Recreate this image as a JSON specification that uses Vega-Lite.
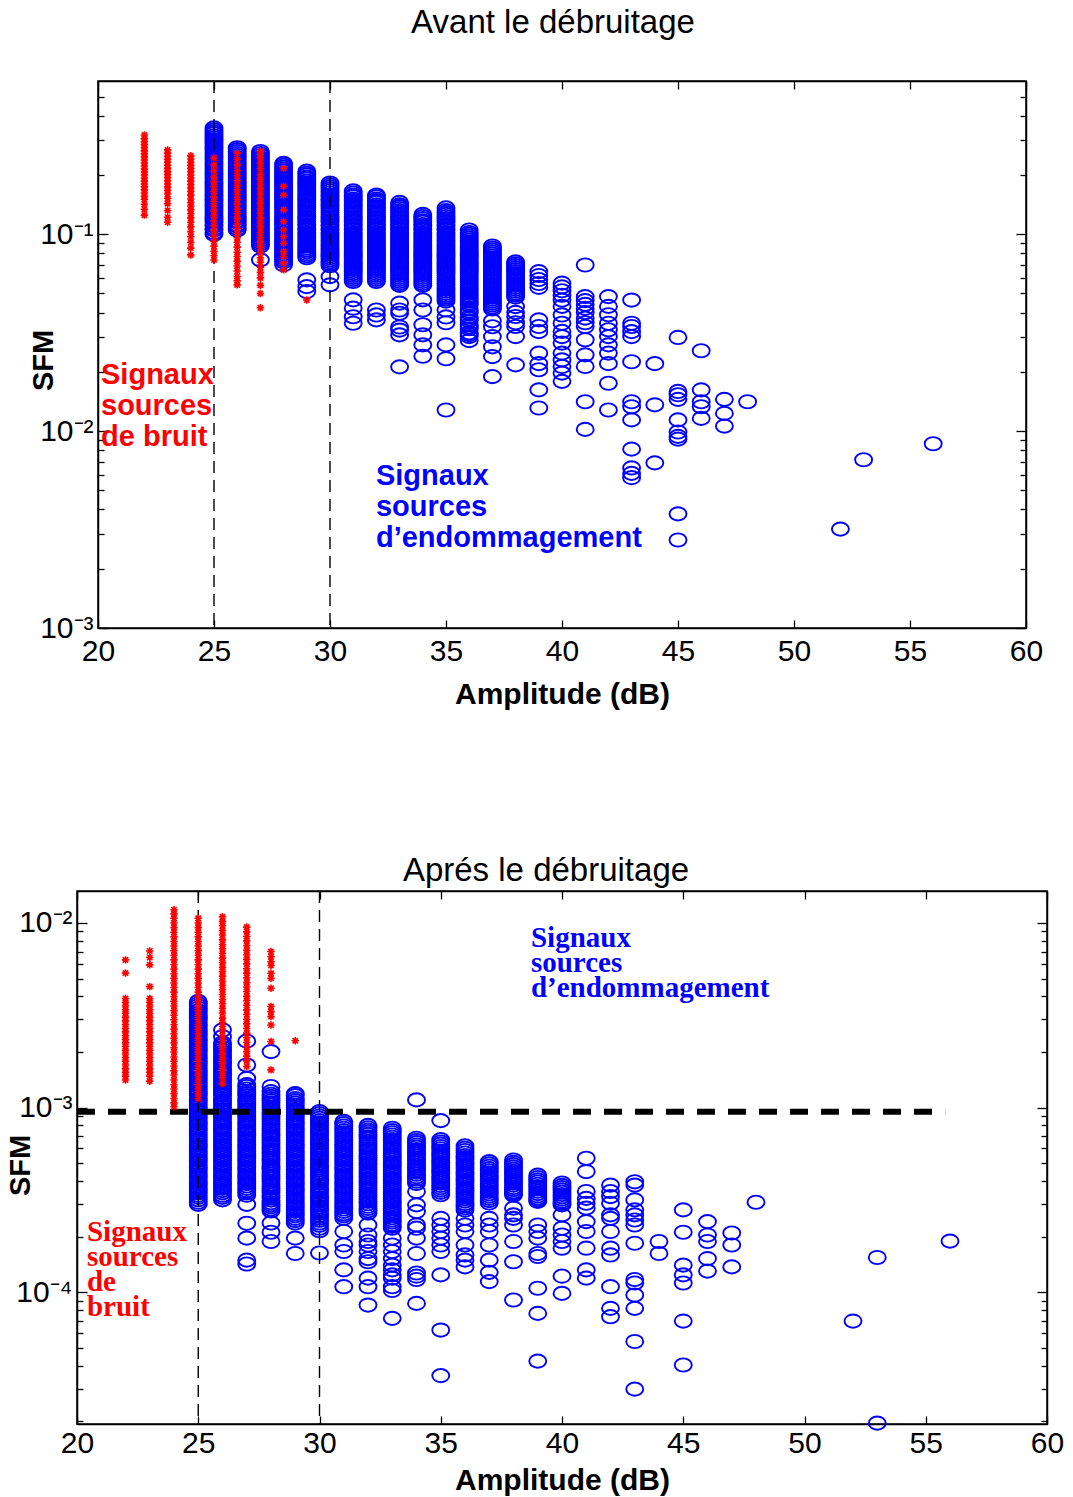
{
"$schema": "https://vega.github.io/schema/vega-lite/v6.json",
"autosize": {"type": "pad"},
"padding": {"left": 5, "top": 6, "right": 26, "bottom": 1},
"bounds": "flush",
"center": true,
"spacing": 263,
"config": {
 "font": "Liberation Sans",
 "view": {"stroke": "black", "strokeWidth": 1.5},
 "axis": {"domainColor": "black", "tickColor": "black", "labelColor": "black", "titleColor": "black", "labelFont": "Liberation Sans", "titleFont": "Liberation Sans", "grid": false, "domainWidth": 1.5, "tickWidth": 1.3},
 "title": {"font": "Liberation Sans", "color": "black"}
},
"datasets": {
"ab": [
{"x":25,"y":0.347},{"x":25,"y":0.331},{"x":25,"y":0.316},{"x":25,"y":0.302},{"x":25,"y":0.288},{"x":25,"y":0.275},{"x":25,"y":0.263},{"x":25,"y":0.251},{"x":25,"y":0.24},{"x":25,"y":0.229},{"x":25,"y":0.219},{"x":25,"y":0.209},{"x":25,"y":0.2},{"x":25,"y":0.191},{"x":25,"y":0.182},{"x":25,"y":0.174},{"x":25,"y":0.166},{"x":25,"y":0.158},{"x":25,"y":0.151},{"x":25,"y":0.145},{"x":25,"y":0.138},{"x":25,"y":0.132},{"x":25,"y":0.126},{"x":25,"y":0.12},{"x":25,"y":0.115},{"x":25,"y":0.11},{"x":25,"y":0.105},{"x":25,"y":0.1},
{"x":25,"y":0.102},{"x":25,"y":0.107},{"x":25,"y":0.112},{"x":25,"y":0.117},{"x":25,"y":0.123},{"x":25,"y":0.129},{"x":25,"y":0.135},{"x":25,"y":0.141},{"x":25,"y":0.148},{"x":25,"y":0.155},{"x":25,"y":0.162},{"x":25,"y":0.17},{"x":25,"y":0.178},{"x":25,"y":0.186},{"x":25,"y":0.195},{"x":25,"y":0.204},{"x":25,"y":0.214},{"x":25,"y":0.224},{"x":25,"y":0.234},{"x":25,"y":0.245},{"x":25,"y":0.257},{"x":25,"y":0.269},{"x":25,"y":0.282},{"x":25,"y":0.295},{"x":25,"y":0.309},{"x":25,"y":0.324},{"x":25,"y":0.339},
{"x":26,"y":0.275},{"x":26,"y":0.263},{"x":26,"y":0.251},{"x":26,"y":0.24},{"x":26,"y":0.229},{"x":26,"y":0.219},{"x":26,"y":0.209},{"x":26,"y":0.2},{"x":26,"y":0.191},{"x":26,"y":0.182},{"x":26,"y":0.174},{"x":26,"y":0.166},{"x":26,"y":0.158},{"x":26,"y":0.151},{"x":26,"y":0.145},{"x":26,"y":0.138},{"x":26,"y":0.132},{"x":26,"y":0.126},{"x":26,"y":0.12},{"x":26,"y":0.115},{"x":26,"y":0.11},{"x":26,"y":0.105},
{"x":26,"y":0.107},{"x":26,"y":0.112},{"x":26,"y":0.117},{"x":26,"y":0.123},{"x":26,"y":0.129},{"x":26,"y":0.135},{"x":26,"y":0.141},{"x":26,"y":0.148},{"x":26,"y":0.155},{"x":26,"y":0.162},{"x":26,"y":0.17},{"x":26,"y":0.178},{"x":26,"y":0.186},{"x":26,"y":0.195},{"x":26,"y":0.204},{"x":26,"y":0.214},{"x":26,"y":0.224},{"x":26,"y":0.234},{"x":26,"y":0.245},{"x":26,"y":0.257},{"x":26,"y":0.269},
{"x":27,"y":0.263},{"x":27,"y":0.251},{"x":27,"y":0.24},{"x":27,"y":0.229},{"x":27,"y":0.219},{"x":27,"y":0.209},{"x":27,"y":0.2},{"x":27,"y":0.191},{"x":27,"y":0.182},{"x":27,"y":0.174},{"x":27,"y":0.166},{"x":27,"y":0.158},{"x":27,"y":0.151},{"x":27,"y":0.145},{"x":27,"y":0.138},{"x":27,"y":0.132},{"x":27,"y":0.126},{"x":27,"y":0.12},{"x":27,"y":0.115},{"x":27,"y":0.11},{"x":27,"y":0.105},{"x":27,"y":0.1},{"x":27,"y":0.0955},{"x":27,"y":0.0912},{"x":27,"y":0.0871},{"x":27,"y":0.0741},
{"x":27,"y":0.0891},{"x":27,"y":0.0933},{"x":27,"y":0.0977},{"x":27,"y":0.102},{"x":27,"y":0.107},{"x":27,"y":0.112},{"x":27,"y":0.117},{"x":27,"y":0.123},{"x":27,"y":0.129},{"x":27,"y":0.135},{"x":27,"y":0.141},{"x":27,"y":0.148},{"x":27,"y":0.155},{"x":27,"y":0.162},{"x":27,"y":0.17},{"x":27,"y":0.178},{"x":27,"y":0.186},{"x":27,"y":0.195},{"x":27,"y":0.204},{"x":27,"y":0.214},{"x":27,"y":0.224},{"x":27,"y":0.234},{"x":27,"y":0.245},{"x":27,"y":0.257},
{"x":28,"y":0.229},{"x":28,"y":0.219},{"x":28,"y":0.209},{"x":28,"y":0.2},{"x":28,"y":0.191},{"x":28,"y":0.182},{"x":28,"y":0.174},{"x":28,"y":0.166},{"x":28,"y":0.158},{"x":28,"y":0.151},{"x":28,"y":0.145},{"x":28,"y":0.138},{"x":28,"y":0.132},{"x":28,"y":0.126},{"x":28,"y":0.12},{"x":28,"y":0.115},{"x":28,"y":0.11},{"x":28,"y":0.105},{"x":28,"y":0.1},{"x":28,"y":0.0955},{"x":28,"y":0.0912},{"x":28,"y":0.0871},{"x":28,"y":0.0832},{"x":28,"y":0.0794},{"x":28,"y":0.0759},{"x":28,"y":0.0724},{"x":28,"y":0.07},
{"x":28,"y":0.0741},{"x":28,"y":0.0776},{"x":28,"y":0.0813},{"x":28,"y":0.0851},{"x":28,"y":0.0891},{"x":28,"y":0.0933},{"x":28,"y":0.0977},{"x":28,"y":0.102},{"x":28,"y":0.107},{"x":28,"y":0.112},{"x":28,"y":0.117},{"x":28,"y":0.123},{"x":28,"y":0.129},{"x":28,"y":0.135},{"x":28,"y":0.141},{"x":28,"y":0.148},{"x":28,"y":0.155},{"x":28,"y":0.162},{"x":28,"y":0.17},{"x":28,"y":0.178},{"x":28,"y":0.186},{"x":28,"y":0.195},{"x":28,"y":0.204},{"x":28,"y":0.214},{"x":28,"y":0.224},
{"x":29,"y":0.209},{"x":29,"y":0.2},{"x":29,"y":0.191},{"x":29,"y":0.182},{"x":29,"y":0.174},{"x":29,"y":0.166},{"x":29,"y":0.158},{"x":29,"y":0.151},{"x":29,"y":0.145},{"x":29,"y":0.138},{"x":29,"y":0.132},{"x":29,"y":0.126},{"x":29,"y":0.12},{"x":29,"y":0.115},{"x":29,"y":0.11},{"x":29,"y":0.105},{"x":29,"y":0.1},{"x":29,"y":0.0955},{"x":29,"y":0.0912},{"x":29,"y":0.0871},{"x":29,"y":0.0832},{"x":29,"y":0.0794},{"x":29,"y":0.0759},{"x":29,"y":0.0586},{"x":29,"y":0.0542},{"x":29,"y":0.0511},
{"x":29,"y":0.0776},{"x":29,"y":0.0813},{"x":29,"y":0.0851},{"x":29,"y":0.0891},{"x":29,"y":0.0933},{"x":29,"y":0.0977},{"x":29,"y":0.102},{"x":29,"y":0.107},{"x":29,"y":0.112},{"x":29,"y":0.117},{"x":29,"y":0.123},{"x":29,"y":0.129},{"x":29,"y":0.135},{"x":29,"y":0.141},{"x":29,"y":0.148},{"x":29,"y":0.155},{"x":29,"y":0.162},{"x":29,"y":0.17},{"x":29,"y":0.178},{"x":29,"y":0.186},{"x":29,"y":0.195},{"x":29,"y":0.204},
{"x":30,"y":0.182},{"x":30,"y":0.174},{"x":30,"y":0.166},{"x":30,"y":0.158},{"x":30,"y":0.151},{"x":30,"y":0.145},{"x":30,"y":0.138},{"x":30,"y":0.132},{"x":30,"y":0.126},{"x":30,"y":0.12},{"x":30,"y":0.115},{"x":30,"y":0.11},{"x":30,"y":0.105},{"x":30,"y":0.1},{"x":30,"y":0.0955},{"x":30,"y":0.0912},{"x":30,"y":0.0871},{"x":30,"y":0.0832},{"x":30,"y":0.0794},{"x":30,"y":0.0759},{"x":30,"y":0.0724},{"x":30,"y":0.0692},{"x":30,"y":0.0609},{"x":30,"y":0.0553},
{"x":30,"y":0.0708},{"x":30,"y":0.0741},{"x":30,"y":0.0776},{"x":30,"y":0.0813},{"x":30,"y":0.0851},{"x":30,"y":0.0891},{"x":30,"y":0.0933},{"x":30,"y":0.0977},{"x":30,"y":0.102},{"x":30,"y":0.107},{"x":30,"y":0.112},{"x":30,"y":0.117},{"x":30,"y":0.123},{"x":30,"y":0.129},{"x":30,"y":0.135},{"x":30,"y":0.141},{"x":30,"y":0.148},{"x":30,"y":0.155},{"x":30,"y":0.162},{"x":30,"y":0.17},{"x":30,"y":0.178},
{"x":31,"y":0.166},{"x":31,"y":0.158},{"x":31,"y":0.151},{"x":31,"y":0.145},{"x":31,"y":0.138},{"x":31,"y":0.132},{"x":31,"y":0.126},{"x":31,"y":0.12},{"x":31,"y":0.115},{"x":31,"y":0.11},{"x":31,"y":0.105},{"x":31,"y":0.1},{"x":31,"y":0.0955},{"x":31,"y":0.0912},{"x":31,"y":0.0871},{"x":31,"y":0.0832},{"x":31,"y":0.0794},{"x":31,"y":0.0759},{"x":31,"y":0.0724},{"x":31,"y":0.0692},{"x":31,"y":0.0661},{"x":31,"y":0.0631},{"x":31,"y":0.0603},{"x":31,"y":0.0575},{"x":31,"y":0.0464},{"x":31,"y":0.0421},{"x":31,"y":0.0381},{"x":31,"y":0.0353},
{"x":31,"y":0.0589},{"x":31,"y":0.0617},{"x":31,"y":0.0646},{"x":31,"y":0.0676},{"x":31,"y":0.0708},{"x":31,"y":0.0741},{"x":31,"y":0.0776},{"x":31,"y":0.0813},{"x":31,"y":0.0851},{"x":31,"y":0.0891},{"x":31,"y":0.0933},{"x":31,"y":0.0977},{"x":31,"y":0.102},{"x":31,"y":0.107},{"x":31,"y":0.112},{"x":31,"y":0.117},{"x":31,"y":0.123},{"x":31,"y":0.129},{"x":31,"y":0.135},{"x":31,"y":0.141},{"x":31,"y":0.148},{"x":31,"y":0.155},{"x":31,"y":0.162},
{"x":32,"y":0.158},{"x":32,"y":0.151},{"x":32,"y":0.145},{"x":32,"y":0.138},{"x":32,"y":0.132},{"x":32,"y":0.126},{"x":32,"y":0.12},{"x":32,"y":0.115},{"x":32,"y":0.11},{"x":32,"y":0.105},{"x":32,"y":0.1},{"x":32,"y":0.0955},{"x":32,"y":0.0912},{"x":32,"y":0.0871},{"x":32,"y":0.0832},{"x":32,"y":0.0794},{"x":32,"y":0.0759},{"x":32,"y":0.0724},{"x":32,"y":0.0692},{"x":32,"y":0.0661},{"x":32,"y":0.0631},{"x":32,"y":0.0603},{"x":32,"y":0.0575},{"x":32,"y":0.0412},{"x":32,"y":0.0389},{"x":32,"y":0.0367},
{"x":32,"y":0.0589},{"x":32,"y":0.0617},{"x":32,"y":0.0646},{"x":32,"y":0.0676},{"x":32,"y":0.0708},{"x":32,"y":0.0741},{"x":32,"y":0.0776},{"x":32,"y":0.0813},{"x":32,"y":0.0851},{"x":32,"y":0.0891},{"x":32,"y":0.0933},{"x":32,"y":0.0977},{"x":32,"y":0.102},{"x":32,"y":0.107},{"x":32,"y":0.112},{"x":32,"y":0.117},{"x":32,"y":0.123},{"x":32,"y":0.129},{"x":32,"y":0.135},{"x":32,"y":0.141},{"x":32,"y":0.148},{"x":32,"y":0.155},
{"x":33,"y":0.145},{"x":33,"y":0.138},{"x":33,"y":0.132},{"x":33,"y":0.126},{"x":33,"y":0.12},{"x":33,"y":0.115},{"x":33,"y":0.11},{"x":33,"y":0.105},{"x":33,"y":0.1},{"x":33,"y":0.0955},{"x":33,"y":0.0912},{"x":33,"y":0.0871},{"x":33,"y":0.0832},{"x":33,"y":0.0794},{"x":33,"y":0.0759},{"x":33,"y":0.0724},{"x":33,"y":0.0692},{"x":33,"y":0.0661},{"x":33,"y":0.0631},{"x":33,"y":0.0603},{"x":33,"y":0.0575},{"x":33,"y":0.055},{"x":33,"y":0.0447},{"x":33,"y":0.0412},{"x":33,"y":0.0397},{"x":33,"y":0.0338},{"x":33,"y":0.0326},{"x":33,"y":0.0308},{"x":33,"y":0.0212},
{"x":33,"y":0.0562},{"x":33,"y":0.0589},{"x":33,"y":0.0617},{"x":33,"y":0.0646},{"x":33,"y":0.0676},{"x":33,"y":0.0708},{"x":33,"y":0.0741},{"x":33,"y":0.0776},{"x":33,"y":0.0813},{"x":33,"y":0.0851},{"x":33,"y":0.0891},{"x":33,"y":0.0933},{"x":33,"y":0.0977},{"x":33,"y":0.102},{"x":33,"y":0.107},{"x":33,"y":0.112},{"x":33,"y":0.117},{"x":33,"y":0.123},{"x":33,"y":0.129},{"x":33,"y":0.135},{"x":33,"y":0.141},
{"x":34,"y":0.126},{"x":34,"y":0.12},{"x":34,"y":0.115},{"x":34,"y":0.11},{"x":34,"y":0.105},{"x":34,"y":0.1},{"x":34,"y":0.0955},{"x":34,"y":0.0912},{"x":34,"y":0.0871},{"x":34,"y":0.0832},{"x":34,"y":0.0794},{"x":34,"y":0.0759},{"x":34,"y":0.0724},{"x":34,"y":0.0692},{"x":34,"y":0.0661},{"x":34,"y":0.0631},{"x":34,"y":0.0603},{"x":34,"y":0.0575},{"x":34,"y":0.055},{"x":34,"y":0.0464},{"x":34,"y":0.0412},{"x":34,"y":0.0347},{"x":34,"y":0.0308},{"x":34,"y":0.0274},{"x":34,"y":0.024},
{"x":34,"y":0.0562},{"x":34,"y":0.0589},{"x":34,"y":0.0617},{"x":34,"y":0.0646},{"x":34,"y":0.0676},{"x":34,"y":0.0708},{"x":34,"y":0.0741},{"x":34,"y":0.0776},{"x":34,"y":0.0813},{"x":34,"y":0.0851},{"x":34,"y":0.0891},{"x":34,"y":0.0933},{"x":34,"y":0.0977},{"x":34,"y":0.102},{"x":34,"y":0.107},{"x":34,"y":0.112},{"x":34,"y":0.117},{"x":34,"y":0.123},
{"x":35,"y":0.136},{"x":35,"y":0.132},{"x":35,"y":0.126},{"x":35,"y":0.12},{"x":35,"y":0.115},{"x":35,"y":0.11},{"x":35,"y":0.105},{"x":35,"y":0.1},{"x":35,"y":0.0955},{"x":35,"y":0.0912},{"x":35,"y":0.0871},{"x":35,"y":0.0832},{"x":35,"y":0.0794},{"x":35,"y":0.0759},{"x":35,"y":0.0724},{"x":35,"y":0.0692},{"x":35,"y":0.0661},{"x":35,"y":0.0631},{"x":35,"y":0.0603},{"x":35,"y":0.0575},{"x":35,"y":0.055},{"x":35,"y":0.0525},{"x":35,"y":0.0501},{"x":35,"y":0.0479},{"x":35,"y":0.0457},{"x":35,"y":0.0412},{"x":35,"y":0.038},{"x":35,"y":0.0355},{"x":35,"y":0.0274},{"x":35,"y":0.0233},{"x":35,"y":0.0128},
{"x":35,"y":0.0468},{"x":35,"y":0.049},{"x":35,"y":0.0513},{"x":35,"y":0.0537},{"x":35,"y":0.0562},{"x":35,"y":0.0589},{"x":35,"y":0.0617},{"x":35,"y":0.0646},{"x":35,"y":0.0676},{"x":35,"y":0.0708},{"x":35,"y":0.0741},{"x":35,"y":0.0776},{"x":35,"y":0.0813},{"x":35,"y":0.0851},{"x":35,"y":0.0891},{"x":35,"y":0.0933},{"x":35,"y":0.0977},{"x":35,"y":0.102},{"x":35,"y":0.107},{"x":35,"y":0.112},{"x":35,"y":0.117},{"x":35,"y":0.123},{"x":35,"y":0.129},
{"x":36,"y":0.105},{"x":36,"y":0.1},{"x":36,"y":0.0955},{"x":36,"y":0.0912},{"x":36,"y":0.0871},{"x":36,"y":0.0832},{"x":36,"y":0.0794},{"x":36,"y":0.0759},{"x":36,"y":0.0724},{"x":36,"y":0.0692},{"x":36,"y":0.0661},{"x":36,"y":0.0631},{"x":36,"y":0.0603},{"x":36,"y":0.0575},{"x":36,"y":0.055},{"x":36,"y":0.0525},{"x":36,"y":0.0501},{"x":36,"y":0.0479},{"x":36,"y":0.0457},{"x":36,"y":0.0437},{"x":36,"y":0.0417},{"x":36,"y":0.0398},{"x":36,"y":0.038},{"x":36,"y":0.0363},{"x":36,"y":0.0347},{"x":36,"y":0.0331},{"x":36,"y":0.0316},{"x":36,"y":0.0302},{"x":36,"y":0.0288},
{"x":36,"y":0.0309},{"x":36,"y":0.0339},{"x":36,"y":0.0372},{"x":36,"y":0.0407},{"x":36,"y":0.0447},{"x":36,"y":0.0468},{"x":36,"y":0.049},{"x":36,"y":0.0513},{"x":36,"y":0.0537},{"x":36,"y":0.0562},{"x":36,"y":0.0589},{"x":36,"y":0.0617},{"x":36,"y":0.0646},{"x":36,"y":0.0676},{"x":36,"y":0.0708},{"x":36,"y":0.0741},{"x":36,"y":0.0776},{"x":36,"y":0.0813},{"x":36,"y":0.0851},{"x":36,"y":0.0891},{"x":36,"y":0.0933},{"x":36,"y":0.0977},{"x":36,"y":0.102},
{"x":37,"y":0.0871},{"x":37,"y":0.0832},{"x":37,"y":0.0794},{"x":37,"y":0.0759},{"x":37,"y":0.0724},{"x":37,"y":0.0692},{"x":37,"y":0.0661},{"x":37,"y":0.0631},{"x":37,"y":0.0603},{"x":37,"y":0.0575},{"x":37,"y":0.055},{"x":37,"y":0.0525},{"x":37,"y":0.0501},{"x":37,"y":0.0479},{"x":37,"y":0.0457},{"x":37,"y":0.0437},{"x":37,"y":0.0417},{"x":37,"y":0.0363},{"x":37,"y":0.0339},{"x":37,"y":0.0302},{"x":37,"y":0.0268},{"x":37,"y":0.0239},{"x":37,"y":0.0189},
{"x":37,"y":0.0427},{"x":37,"y":0.0447},{"x":37,"y":0.0468},{"x":37,"y":0.049},{"x":37,"y":0.0513},{"x":37,"y":0.0537},{"x":37,"y":0.0562},{"x":37,"y":0.0589},{"x":37,"y":0.0617},{"x":37,"y":0.0646},{"x":37,"y":0.0676},{"x":37,"y":0.0708},{"x":37,"y":0.0741},{"x":37,"y":0.0776},{"x":37,"y":0.0813},{"x":37,"y":0.0851},
{"x":38,"y":0.0724},{"x":38,"y":0.0692},{"x":38,"y":0.0661},{"x":38,"y":0.0631},{"x":38,"y":0.0603},{"x":38,"y":0.0575},{"x":38,"y":0.055},{"x":38,"y":0.0525},{"x":38,"y":0.0501},{"x":38,"y":0.0479},{"x":38,"y":0.0429},{"x":38,"y":0.0401},{"x":38,"y":0.0382},{"x":38,"y":0.0355},{"x":38,"y":0.034},{"x":38,"y":0.0302},{"x":38,"y":0.0217},
{"x":38,"y":0.049},{"x":38,"y":0.0513},{"x":38,"y":0.0537},{"x":38,"y":0.0562},{"x":38,"y":0.0589},{"x":38,"y":0.0617},{"x":38,"y":0.0646},{"x":38,"y":0.0676},{"x":38,"y":0.0708},
{"x":39,"y":0.0646},{"x":39,"y":0.0617},{"x":39,"y":0.0589},{"x":39,"y":0.0562},{"x":39,"y":0.0537},{"x":39,"y":0.0367},{"x":39,"y":0.034},{"x":39,"y":0.032},{"x":39,"y":0.0249},{"x":39,"y":0.022},{"x":39,"y":0.0205},{"x":39,"y":0.0162},{"x":39,"y":0.0131},
{"x":40,"y":0.0564},{"x":40,"y":0.054},{"x":40,"y":0.0516},{"x":40,"y":0.049},{"x":40,"y":0.0463},{"x":40,"y":0.043},{"x":40,"y":0.0389},{"x":40,"y":0.0353},{"x":40,"y":0.0321},{"x":40,"y":0.0302},{"x":40,"y":0.028},{"x":40,"y":0.0249},{"x":40,"y":0.023},{"x":40,"y":0.0213},{"x":40,"y":0.0197},{"x":40,"y":0.0179},
{"x":41,"y":0.0698},{"x":41,"y":0.0482},{"x":41,"y":0.046},{"x":41,"y":0.044},{"x":41,"y":0.042},{"x":41,"y":0.04},{"x":41,"y":0.0375},{"x":41,"y":0.0355},{"x":41,"y":0.034},{"x":41,"y":0.0291},{"x":41,"y":0.0244},{"x":41,"y":0.0213},{"x":41,"y":0.0141},{"x":41,"y":0.0102},
{"x":42,"y":0.0482},{"x":42,"y":0.043},{"x":42,"y":0.039},{"x":42,"y":0.0353},{"x":42,"y":0.0327},{"x":42,"y":0.0302},{"x":42,"y":0.0274},{"x":42,"y":0.0249},{"x":42,"y":0.022},{"x":42,"y":0.0175},{"x":42,"y":0.0128},
{"x":43,"y":0.0463},{"x":43,"y":0.0353},{"x":43,"y":0.034},{"x":43,"y":0.032},{"x":43,"y":0.0302},{"x":43,"y":0.0225},{"x":43,"y":0.0141},{"x":43,"y":0.0133},{"x":43,"y":0.0114},{"x":43,"y":0.0081},{"x":43,"y":0.0065},{"x":43,"y":0.0061},{"x":43,"y":0.0058},
{"x":44,"y":0.022},{"x":44,"y":0.0136},{"x":44,"y":0.0069},
{"x":45,"y":0.0299},{"x":45,"y":0.0159},{"x":45,"y":0.0153},{"x":45,"y":0.0145},{"x":45,"y":0.0114},{"x":45,"y":0.0099},{"x":45,"y":0.0094},{"x":45,"y":0.0091},{"x":45,"y":0.0038},{"x":45,"y":0.0028},
{"x":46,"y":0.0256},{"x":46,"y":0.0162},{"x":46,"y":0.0141},{"x":46,"y":0.0133},{"x":46,"y":0.0116},
{"x":47,"y":0.0145},{"x":47,"y":0.0123},{"x":47,"y":0.0106},
{"x":48,"y":0.0141},
{"x":52,"y":0.00318},{"x":53,"y":0.00715},{"x":56,"y":0.00863}
],
"ar": [
{"x":22,"y":0.319},{"x":22,"y":0.305},{"x":22,"y":0.295},{"x":22,"y":0.285},{"x":22,"y":0.275},{"x":22,"y":0.265},{"x":22,"y":0.256},{"x":22,"y":0.247},{"x":22,"y":0.238},{"x":22,"y":0.23},{"x":22,"y":0.222},{"x":22,"y":0.214},{"x":22,"y":0.207},{"x":22,"y":0.2},{"x":22,"y":0.193},{"x":22,"y":0.186},{"x":22,"y":0.18},{"x":22,"y":0.174},{"x":22,"y":0.168},{"x":22,"y":0.162},{"x":22,"y":0.156},{"x":22,"y":0.15},{"x":22,"y":0.142},{"x":22,"y":0.134},{"x":22,"y":0.125},
{"x":23,"y":0.268},{"x":23,"y":0.258},{"x":23,"y":0.249},{"x":23,"y":0.24},{"x":23,"y":0.232},{"x":23,"y":0.224},{"x":23,"y":0.216},{"x":23,"y":0.208},{"x":23,"y":0.201},{"x":23,"y":0.194},{"x":23,"y":0.187},{"x":23,"y":0.18},{"x":23,"y":0.174},{"x":23,"y":0.167},{"x":23,"y":0.16},{"x":23,"y":0.152},{"x":23,"y":0.143},{"x":23,"y":0.132},{"x":23,"y":0.122},{"x":23,"y":0.115},
{"x":24,"y":0.25},{"x":24,"y":0.241},{"x":24,"y":0.232},{"x":24,"y":0.224},{"x":24,"y":0.216},{"x":24,"y":0.208},{"x":24,"y":0.2},{"x":24,"y":0.193},{"x":24,"y":0.186},{"x":24,"y":0.179},{"x":24,"y":0.172},{"x":24,"y":0.165},{"x":24,"y":0.158},{"x":24,"y":0.151},{"x":24,"y":0.145},{"x":24,"y":0.139},{"x":24,"y":0.133},{"x":24,"y":0.127},{"x":24,"y":0.121},{"x":24,"y":0.115},{"x":24,"y":0.109},{"x":24,"y":0.103},{"x":24,"y":0.097},{"x":24,"y":0.091},{"x":24,"y":0.085},{"x":24,"y":0.0785},
{"x":25,"y":0.244},{"x":25,"y":0.225},{"x":25,"y":0.21},{"x":25,"y":0.195},{"x":25,"y":0.185},{"x":25,"y":0.175},{"x":25,"y":0.165},{"x":25,"y":0.155},{"x":25,"y":0.147},{"x":25,"y":0.139},{"x":25,"y":0.131},{"x":25,"y":0.124},{"x":25,"y":0.117},{"x":25,"y":0.11},{"x":25,"y":0.104},{"x":25,"y":0.098},{"x":25,"y":0.092},{"x":25,"y":0.087},{"x":25,"y":0.082},{"x":25,"y":0.078},{"x":25,"y":0.074},
{"x":26,"y":0.258},{"x":26,"y":0.24},{"x":26,"y":0.225},{"x":26,"y":0.21},{"x":26,"y":0.198},{"x":26,"y":0.187},{"x":26,"y":0.177},{"x":26,"y":0.168},{"x":26,"y":0.159},{"x":26,"y":0.15},{"x":26,"y":0.142},{"x":26,"y":0.134},{"x":26,"y":0.127},{"x":26,"y":0.12},{"x":26,"y":0.113},{"x":26,"y":0.107},{"x":26,"y":0.101},{"x":26,"y":0.096},{"x":26,"y":0.091},{"x":26,"y":0.086},{"x":26,"y":0.081},{"x":26,"y":0.077},{"x":26,"y":0.073},{"x":26,"y":0.069},{"x":26,"y":0.065},{"x":26,"y":0.061},{"x":26,"y":0.058},{"x":26,"y":0.0553},
{"x":27,"y":0.262},{"x":27,"y":0.245},{"x":27,"y":0.23},{"x":27,"y":0.215},{"x":27,"y":0.2},{"x":27,"y":0.19},{"x":27,"y":0.18},{"x":27,"y":0.17},{"x":27,"y":0.16},{"x":27,"y":0.151},{"x":27,"y":0.143},{"x":27,"y":0.135},{"x":27,"y":0.128},{"x":27,"y":0.121},{"x":27,"y":0.114},{"x":27,"y":0.108},{"x":27,"y":0.102},{"x":27,"y":0.096},{"x":27,"y":0.091},{"x":27,"y":0.086},{"x":27,"y":0.081},{"x":27,"y":0.076},{"x":27,"y":0.072},{"x":27,"y":0.068},{"x":27,"y":0.064},{"x":27,"y":0.06},{"x":27,"y":0.055},{"x":27,"y":0.05},{"x":27,"y":0.0423},
{"x":28,"y":0.216},{"x":28,"y":0.175},{"x":28,"y":0.158},{"x":28,"y":0.133},{"x":28,"y":0.116},{"x":28,"y":0.105},{"x":28,"y":0.097},{"x":28,"y":0.09},{"x":28,"y":0.0816},{"x":28,"y":0.077},{"x":28,"y":0.0713},{"x":28,"y":0.0659},
{"x":29,"y":0.0463}
],
"pb": [
{"x":25,"y":3.76e-3},{"x":25,"y":3.55e-3},{"x":25,"y":3.35e-3},{"x":25,"y":3.16e-3},{"x":25,"y":2.99e-3},{"x":25,"y":2.82e-3},{"x":25,"y":2.66e-3},{"x":25,"y":2.51e-3},{"x":25,"y":2.37e-3},{"x":25,"y":2.24e-3},{"x":25,"y":2.11e-3},{"x":25,"y":2.0e-3},{"x":25,"y":1.88e-3},{"x":25,"y":1.78e-3},{"x":25,"y":1.68e-3},{"x":25,"y":1.58e-3},{"x":25,"y":1.5e-3},{"x":25,"y":1.41e-3},{"x":25,"y":1.33e-3},{"x":25,"y":1.26e-3},{"x":25,"y":1.19e-3},{"x":25,"y":1.12e-3},{"x":25,"y":1.06e-3},{"x":25,"y":1.0e-3},{"x":25,"y":9.44e-4},{"x":25,"y":8.91e-4},{"x":25,"y":8.41e-4},{"x":25,"y":7.94e-4},{"x":25,"y":7.5e-4},{"x":25,"y":7.08e-4},{"x":25,"y":6.68e-4},{"x":25,"y":6.31e-4},{"x":25,"y":5.96e-4},{"x":25,"y":5.62e-4},{"x":25,"y":5.31e-4},{"x":25,"y":5.01e-4},{"x":25,"y":4.73e-4},{"x":25,"y":4.47e-4},{"x":25,"y":4.22e-4},{"x":25,"y":3.98e-4},{"x":25,"y":3.76e-4},{"x":25,"y":3.55e-4},{"x":25,"y":3.35e-4},{"x":25,"y":3.16e-4},{"x":25,"y":2.99e-4},
{"x":25,"y":3.07e-4},{"x":25,"y":3.26e-4},{"x":25,"y":3.45e-4},{"x":25,"y":3.65e-4},{"x":25,"y":3.87e-4},{"x":25,"y":4.1e-4},{"x":25,"y":4.34e-4},{"x":25,"y":4.6e-4},{"x":25,"y":4.87e-4},{"x":25,"y":5.16e-4},{"x":25,"y":5.46e-4},{"x":25,"y":5.79e-4},{"x":25,"y":6.13e-4},{"x":25,"y":6.49e-4},{"x":25,"y":6.88e-4},{"x":25,"y":7.29e-4},{"x":25,"y":7.72e-4},{"x":25,"y":8.18e-4},{"x":25,"y":8.66e-4},{"x":25,"y":9.17e-4},{"x":25,"y":9.72e-4},{"x":25,"y":1.03e-3},{"x":25,"y":1.09e-3},{"x":25,"y":1.16e-3},{"x":25,"y":1.22e-3},{"x":25,"y":1.3e-3},{"x":25,"y":1.37e-3},{"x":25,"y":1.45e-3},{"x":25,"y":1.54e-3},{"x":25,"y":1.63e-3},{"x":25,"y":1.73e-3},{"x":25,"y":1.83e-3},{"x":25,"y":1.94e-3},{"x":25,"y":2.05e-3},{"x":25,"y":2.18e-3},{"x":25,"y":2.3e-3},{"x":25,"y":2.44e-3},{"x":25,"y":2.59e-3},{"x":25,"y":2.74e-3},{"x":25,"y":2.9e-3},{"x":25,"y":3.07e-3},{"x":25,"y":3.26e-3},{"x":25,"y":3.45e-3},{"x":25,"y":3.65e-3},
{"x":26,"y":2.63e-3},{"x":26,"y":2.42e-3},{"x":26,"y":2.24e-3},{"x":26,"y":2.11e-3},{"x":26,"y":2.0e-3},{"x":26,"y":1.88e-3},{"x":26,"y":1.78e-3},{"x":26,"y":1.68e-3},{"x":26,"y":1.58e-3},{"x":26,"y":1.5e-3},{"x":26,"y":1.41e-3},{"x":26,"y":1.33e-3},{"x":26,"y":1.26e-3},{"x":26,"y":1.19e-3},{"x":26,"y":1.12e-3},{"x":26,"y":1.06e-3},{"x":26,"y":1.0e-3},{"x":26,"y":9.44e-4},{"x":26,"y":8.91e-4},{"x":26,"y":8.41e-4},{"x":26,"y":7.94e-4},{"x":26,"y":7.5e-4},{"x":26,"y":7.08e-4},{"x":26,"y":6.68e-4},{"x":26,"y":6.31e-4},{"x":26,"y":5.96e-4},{"x":26,"y":5.62e-4},{"x":26,"y":5.31e-4},{"x":26,"y":5.01e-4},{"x":26,"y":4.73e-4},{"x":26,"y":4.47e-4},{"x":26,"y":4.22e-4},{"x":26,"y":3.98e-4},{"x":26,"y":3.76e-4},{"x":26,"y":3.55e-4},{"x":26,"y":3.35e-4},{"x":26,"y":3.16e-4},
{"x":26,"y":3.26e-4},{"x":26,"y":3.45e-4},{"x":26,"y":3.65e-4},{"x":26,"y":3.87e-4},{"x":26,"y":4.1e-4},{"x":26,"y":4.34e-4},{"x":26,"y":4.6e-4},{"x":26,"y":4.87e-4},{"x":26,"y":5.16e-4},{"x":26,"y":5.46e-4},{"x":26,"y":5.79e-4},{"x":26,"y":6.13e-4},{"x":26,"y":6.49e-4},{"x":26,"y":6.88e-4},{"x":26,"y":7.29e-4},{"x":26,"y":7.72e-4},{"x":26,"y":8.18e-4},{"x":26,"y":8.66e-4},{"x":26,"y":9.17e-4},{"x":26,"y":9.72e-4},{"x":26,"y":1.03e-3},{"x":26,"y":1.09e-3},{"x":26,"y":1.16e-3},{"x":26,"y":1.22e-3},{"x":26,"y":1.3e-3},{"x":26,"y":1.37e-3},{"x":26,"y":1.45e-3},{"x":26,"y":1.54e-3},{"x":26,"y":1.63e-3},{"x":26,"y":1.73e-3},{"x":26,"y":1.83e-3},{"x":26,"y":1.94e-3},{"x":26,"y":2.05e-3},{"x":26,"y":2.18e-3},
{"x":27,"y":2.29e-3},{"x":27,"y":1.7e-3},{"x":27,"y":1.44e-3},{"x":27,"y":1.33e-3},{"x":27,"y":1.26e-3},{"x":27,"y":1.19e-3},{"x":27,"y":1.12e-3},{"x":27,"y":1.06e-3},{"x":27,"y":1.0e-3},{"x":27,"y":9.44e-4},{"x":27,"y":8.91e-4},{"x":27,"y":8.41e-4},{"x":27,"y":7.94e-4},{"x":27,"y":7.5e-4},{"x":27,"y":7.08e-4},{"x":27,"y":6.68e-4},{"x":27,"y":6.31e-4},{"x":27,"y":5.96e-4},{"x":27,"y":5.62e-4},{"x":27,"y":5.31e-4},{"x":27,"y":5.01e-4},{"x":27,"y":4.73e-4},{"x":27,"y":4.47e-4},{"x":27,"y":4.22e-4},{"x":27,"y":3.98e-4},{"x":27,"y":3.76e-4},{"x":27,"y":3.55e-4},{"x":27,"y":3.35e-4},{"x":27,"y":2.99e-4},{"x":27,"y":2.36e-4},{"x":27,"y":1.96e-4},{"x":27,"y":1.49e-4},{"x":27,"y":1.42e-4},
{"x":27,"y":3.45e-4},{"x":27,"y":3.65e-4},{"x":27,"y":3.87e-4},{"x":27,"y":4.1e-4},{"x":27,"y":4.34e-4},{"x":27,"y":4.6e-4},{"x":27,"y":4.87e-4},{"x":27,"y":5.16e-4},{"x":27,"y":5.46e-4},{"x":27,"y":5.79e-4},{"x":27,"y":6.13e-4},{"x":27,"y":6.49e-4},{"x":27,"y":6.88e-4},{"x":27,"y":7.29e-4},{"x":27,"y":7.72e-4},{"x":27,"y":8.18e-4},{"x":27,"y":8.66e-4},{"x":27,"y":9.17e-4},{"x":27,"y":9.72e-4},{"x":27,"y":1.03e-3},{"x":27,"y":1.09e-3},{"x":27,"y":1.16e-3},{"x":27,"y":1.22e-3},{"x":27,"y":1.3e-3},
{"x":28,"y":2.01e-3},{"x":28,"y":1.3e-3},{"x":28,"y":1.22e-3},{"x":28,"y":1.15e-3},{"x":28,"y":1.09e-3},{"x":28,"y":1.03e-3},{"x":28,"y":9.7e-4},{"x":28,"y":9.15e-4},{"x":28,"y":8.65e-4},{"x":28,"y":8.15e-4},{"x":28,"y":7.7e-4},{"x":28,"y":7.25e-4},{"x":28,"y":6.85e-4},{"x":28,"y":6.45e-4},{"x":28,"y":6.1e-4},{"x":28,"y":5.75e-4},{"x":28,"y":5.45e-4},{"x":28,"y":5.15e-4},{"x":28,"y":4.85e-4},{"x":28,"y":4.6e-4},{"x":28,"y":4.35e-4},{"x":28,"y":4.1e-4},{"x":28,"y":3.85e-4},{"x":28,"y":3.65e-4},{"x":28,"y":3.45e-4},{"x":28,"y":3.25e-4},{"x":28,"y":3.05e-4},{"x":28,"y":2.9e-4},{"x":28,"y":2.75e-4},{"x":28,"y":2.37e-4},{"x":28,"y":2.11e-4},{"x":28,"y":1.88e-4},
{"x":28,"y":2.82e-4},{"x":28,"y":2.97e-4},{"x":28,"y":3.15e-4},{"x":28,"y":3.35e-4},{"x":28,"y":3.55e-4},{"x":28,"y":3.75e-4},{"x":28,"y":3.97e-4},{"x":28,"y":4.22e-4},{"x":28,"y":4.47e-4},{"x":28,"y":4.72e-4},{"x":28,"y":5.0e-4},{"x":28,"y":5.3e-4},{"x":28,"y":5.6e-4},{"x":28,"y":5.92e-4},{"x":28,"y":6.27e-4},{"x":28,"y":6.65e-4},{"x":28,"y":7.05e-4},{"x":28,"y":7.47e-4},{"x":28,"y":7.92e-4},{"x":28,"y":8.4e-4},{"x":28,"y":8.9e-4},{"x":28,"y":9.42e-4},{"x":28,"y":1.0e-3},{"x":28,"y":1.06e-3},{"x":28,"y":1.12e-3},{"x":28,"y":1.18e-3},
{"x":29,"y":1.19e-3},{"x":29,"y":1.12e-3},{"x":29,"y":1.06e-3},{"x":29,"y":1.0e-3},{"x":29,"y":9.44e-4},{"x":29,"y":8.91e-4},{"x":29,"y":8.41e-4},{"x":29,"y":7.94e-4},{"x":29,"y":7.5e-4},{"x":29,"y":7.08e-4},{"x":29,"y":6.68e-4},{"x":29,"y":6.31e-4},{"x":29,"y":5.96e-4},{"x":29,"y":5.62e-4},{"x":29,"y":5.31e-4},{"x":29,"y":5.01e-4},{"x":29,"y":4.73e-4},{"x":29,"y":4.47e-4},{"x":29,"y":4.22e-4},{"x":29,"y":3.98e-4},{"x":29,"y":3.76e-4},{"x":29,"y":3.55e-4},{"x":29,"y":3.35e-4},{"x":29,"y":3.16e-4},{"x":29,"y":2.99e-4},{"x":29,"y":2.82e-4},{"x":29,"y":2.66e-4},{"x":29,"y":2.51e-4},{"x":29,"y":2.37e-4},{"x":29,"y":1.96e-4},{"x":29,"y":1.62e-4},
{"x":29,"y":2.44e-4},{"x":29,"y":2.59e-4},{"x":29,"y":2.74e-4},{"x":29,"y":2.9e-4},{"x":29,"y":3.07e-4},{"x":29,"y":3.26e-4},{"x":29,"y":3.45e-4},{"x":29,"y":3.65e-4},{"x":29,"y":3.87e-4},{"x":29,"y":4.1e-4},{"x":29,"y":4.34e-4},{"x":29,"y":4.6e-4},{"x":29,"y":4.87e-4},{"x":29,"y":5.16e-4},{"x":29,"y":5.46e-4},{"x":29,"y":5.79e-4},{"x":29,"y":6.13e-4},{"x":29,"y":6.49e-4},{"x":29,"y":6.88e-4},{"x":29,"y":7.29e-4},{"x":29,"y":7.72e-4},{"x":29,"y":8.18e-4},{"x":29,"y":8.66e-4},{"x":29,"y":9.17e-4},{"x":29,"y":9.72e-4},{"x":29,"y":1.03e-3},{"x":29,"y":1.09e-3},{"x":29,"y":1.16e-3},
{"x":30,"y":9.5e-4},{"x":30,"y":9.0e-4},{"x":30,"y":8.5e-4},{"x":30,"y":8.05e-4},{"x":30,"y":7.6e-4},{"x":30,"y":7.2e-4},{"x":30,"y":6.8e-4},{"x":30,"y":6.45e-4},{"x":30,"y":6.1e-4},{"x":30,"y":5.75e-4},{"x":30,"y":5.45e-4},{"x":30,"y":5.15e-4},{"x":30,"y":4.85e-4},{"x":30,"y":4.6e-4},{"x":30,"y":4.35e-4},{"x":30,"y":4.1e-4},{"x":30,"y":3.9e-4},{"x":30,"y":3.65e-4},{"x":30,"y":3.45e-4},{"x":30,"y":3.25e-4},{"x":30,"y":3.1e-4},{"x":30,"y":2.9e-4},{"x":30,"y":2.75e-4},{"x":30,"y":2.6e-4},{"x":30,"y":2.45e-4},{"x":30,"y":2.3e-4},{"x":30,"y":2.15e-4},{"x":30,"y":1.63e-4},
{"x":30,"y":2.22e-4},{"x":30,"y":2.37e-4},{"x":30,"y":2.52e-4},{"x":30,"y":2.67e-4},{"x":30,"y":2.82e-4},{"x":30,"y":3.0e-4},{"x":30,"y":3.17e-4},{"x":30,"y":3.35e-4},{"x":30,"y":3.55e-4},{"x":30,"y":3.77e-4},{"x":30,"y":4.0e-4},{"x":30,"y":4.22e-4},{"x":30,"y":4.47e-4},{"x":30,"y":4.72e-4},{"x":30,"y":5.0e-4},{"x":30,"y":5.3e-4},{"x":30,"y":5.6e-4},{"x":30,"y":5.92e-4},{"x":30,"y":6.27e-4},{"x":30,"y":6.62e-4},{"x":30,"y":7.0e-4},{"x":30,"y":7.4e-4},{"x":30,"y":7.82e-4},{"x":30,"y":8.27e-4},{"x":30,"y":8.75e-4},{"x":30,"y":9.25e-4},
{"x":31,"y":8.41e-4},{"x":31,"y":7.94e-4},{"x":31,"y":7.5e-4},{"x":31,"y":7.08e-4},{"x":31,"y":6.68e-4},{"x":31,"y":6.31e-4},{"x":31,"y":5.96e-4},{"x":31,"y":5.62e-4},{"x":31,"y":5.31e-4},{"x":31,"y":5.01e-4},{"x":31,"y":4.73e-4},{"x":31,"y":4.47e-4},{"x":31,"y":4.22e-4},{"x":31,"y":3.98e-4},{"x":31,"y":3.76e-4},{"x":31,"y":3.55e-4},{"x":31,"y":3.35e-4},{"x":31,"y":3.16e-4},{"x":31,"y":2.99e-4},{"x":31,"y":2.82e-4},{"x":31,"y":2.66e-4},{"x":31,"y":2.51e-4},{"x":31,"y":2.13e-4},{"x":31,"y":1.8e-4},{"x":31,"y":1.66e-4},{"x":31,"y":1.32e-4},{"x":31,"y":1.07e-4},
{"x":31,"y":2.59e-4},{"x":31,"y":2.74e-4},{"x":31,"y":2.9e-4},{"x":31,"y":3.07e-4},{"x":31,"y":3.26e-4},{"x":31,"y":3.45e-4},{"x":31,"y":3.65e-4},{"x":31,"y":3.87e-4},{"x":31,"y":4.1e-4},{"x":31,"y":4.34e-4},{"x":31,"y":4.6e-4},{"x":31,"y":4.87e-4},{"x":31,"y":5.16e-4},{"x":31,"y":5.46e-4},{"x":31,"y":5.79e-4},{"x":31,"y":6.13e-4},{"x":31,"y":6.49e-4},{"x":31,"y":6.88e-4},{"x":31,"y":7.29e-4},{"x":31,"y":7.72e-4},{"x":31,"y":8.18e-4},
{"x":32,"y":8.0e-4},{"x":32,"y":7.55e-4},{"x":32,"y":7.15e-4},{"x":32,"y":6.75e-4},{"x":32,"y":6.35e-4},{"x":32,"y":6.0e-4},{"x":32,"y":5.65e-4},{"x":32,"y":5.35e-4},{"x":32,"y":5.05e-4},{"x":32,"y":4.75e-4},{"x":32,"y":4.5e-4},{"x":32,"y":4.25e-4},{"x":32,"y":4.0e-4},{"x":32,"y":3.8e-4},{"x":32,"y":3.58e-4},{"x":32,"y":3.38e-4},{"x":32,"y":3.19e-4},{"x":32,"y":3.01e-4},{"x":32,"y":2.84e-4},{"x":32,"y":2.68e-4},{"x":32,"y":2.31e-4},{"x":32,"y":2.04e-4},{"x":32,"y":1.88e-4},{"x":32,"y":1.8e-4},{"x":32,"y":1.66e-4},{"x":32,"y":1.52e-4},{"x":32,"y":1.46e-4},{"x":32,"y":1.19e-4},{"x":32,"y":1.07e-4},{"x":32,"y":8.51e-5},
{"x":32,"y":2.76e-4},{"x":32,"y":2.92e-4},{"x":32,"y":3.1e-4},{"x":32,"y":3.28e-4},{"x":32,"y":3.48e-4},{"x":32,"y":3.69e-4},{"x":32,"y":3.9e-4},{"x":32,"y":4.12e-4},{"x":32,"y":4.37e-4},{"x":32,"y":4.62e-4},{"x":32,"y":4.9e-4},{"x":32,"y":5.2e-4},{"x":32,"y":5.5e-4},{"x":32,"y":5.82e-4},{"x":32,"y":6.17e-4},{"x":32,"y":6.55e-4},{"x":32,"y":6.95e-4},{"x":32,"y":7.35e-4},{"x":32,"y":7.77e-4},
{"x":33,"y":7.72e-4},{"x":33,"y":7.3e-4},{"x":33,"y":6.9e-4},{"x":33,"y":6.5e-4},{"x":33,"y":6.15e-4},{"x":33,"y":5.8e-4},{"x":33,"y":5.5e-4},{"x":33,"y":5.2e-4},{"x":33,"y":4.9e-4},{"x":33,"y":4.62e-4},{"x":33,"y":4.37e-4},{"x":33,"y":4.12e-4},{"x":33,"y":3.9e-4},{"x":33,"y":3.68e-4},{"x":33,"y":3.48e-4},{"x":33,"y":3.28e-4},{"x":33,"y":3.1e-4},{"x":33,"y":2.92e-4},{"x":33,"y":2.76e-4},{"x":33,"y":2.61e-4},{"x":33,"y":2.46e-4},{"x":33,"y":2.33e-4},{"x":33,"y":2.22e-4},{"x":33,"y":1.96e-4},{"x":33,"y":1.8e-4},{"x":33,"y":1.66e-4},{"x":33,"y":1.52e-4},{"x":33,"y":1.4e-4},{"x":33,"y":1.32e-4},{"x":33,"y":1.24e-4},{"x":33,"y":1.19e-4},{"x":33,"y":1.07e-4},{"x":33,"y":1.02e-4},{"x":33,"y":7.21e-5},
{"x":33,"y":2.27e-4},{"x":33,"y":2.4e-4},{"x":33,"y":2.53e-4},{"x":33,"y":2.68e-4},{"x":33,"y":2.84e-4},{"x":33,"y":3.01e-4},{"x":33,"y":3.19e-4},{"x":33,"y":3.38e-4},{"x":33,"y":3.58e-4},{"x":33,"y":3.79e-4},{"x":33,"y":4.01e-4},{"x":33,"y":4.25e-4},{"x":33,"y":4.5e-4},{"x":33,"y":4.76e-4},{"x":33,"y":5.05e-4},{"x":33,"y":5.35e-4},{"x":33,"y":5.65e-4},{"x":33,"y":5.97e-4},{"x":33,"y":6.32e-4},{"x":33,"y":6.7e-4},{"x":33,"y":7.1e-4},{"x":33,"y":7.5e-4},
{"x":34,"y":1.1e-3},{"x":34,"y":6.82e-4},{"x":34,"y":6.45e-4},{"x":34,"y":6.1e-4},{"x":34,"y":5.75e-4},{"x":34,"y":5.45e-4},{"x":34,"y":5.15e-4},{"x":34,"y":4.85e-4},{"x":34,"y":4.6e-4},{"x":34,"y":4.35e-4},{"x":34,"y":4.1e-4},{"x":34,"y":3.88e-4},{"x":34,"y":3.51e-4},{"x":34,"y":2.97e-4},{"x":34,"y":2.73e-4},{"x":34,"y":2.31e-4},{"x":34,"y":2.22e-4},{"x":34,"y":1.96e-4},{"x":34,"y":1.62e-4},{"x":34,"y":1.27e-4},{"x":34,"y":1.22e-4},{"x":34,"y":1.17e-4},{"x":34,"y":8.69e-5},
{"x":34,"y":3.99e-4},{"x":34,"y":4.22e-4},{"x":34,"y":4.47e-4},{"x":34,"y":4.72e-4},{"x":34,"y":5.0e-4},{"x":34,"y":5.3e-4},{"x":34,"y":5.6e-4},{"x":34,"y":5.92e-4},{"x":34,"y":6.27e-4},{"x":34,"y":6.63e-4},
{"x":35,"y":8.5e-4},{"x":35,"y":6.7e-4},{"x":35,"y":6.33e-4},{"x":35,"y":5.98e-4},{"x":35,"y":5.65e-4},{"x":35,"y":5.33e-4},{"x":35,"y":5.03e-4},{"x":35,"y":4.75e-4},{"x":35,"y":4.49e-4},{"x":35,"y":4.24e-4},{"x":35,"y":4.0e-4},{"x":35,"y":3.78e-4},{"x":35,"y":3.57e-4},{"x":35,"y":3.37e-4},{"x":35,"y":2.51e-4},{"x":35,"y":2.31e-4},{"x":35,"y":2.13e-4},{"x":35,"y":1.96e-4},{"x":35,"y":1.8e-4},{"x":35,"y":1.66e-4},{"x":35,"y":1.24e-4},{"x":35,"y":6.23e-5},{"x":35,"y":3.53e-5},
{"x":35,"y":3.47e-4},{"x":35,"y":3.67e-4},{"x":35,"y":3.89e-4},{"x":35,"y":4.12e-4},{"x":35,"y":4.37e-4},{"x":35,"y":4.62e-4},{"x":35,"y":4.89e-4},{"x":35,"y":5.18e-4},{"x":35,"y":5.49e-4},{"x":35,"y":5.81e-4},{"x":35,"y":6.15e-4},{"x":35,"y":6.51e-4},
{"x":36,"y":6.2e-4},{"x":36,"y":5.85e-4},{"x":36,"y":5.5e-4},{"x":36,"y":5.2e-4},{"x":36,"y":4.91e-4},{"x":36,"y":4.64e-4},{"x":36,"y":4.38e-4},{"x":36,"y":4.14e-4},{"x":36,"y":3.91e-4},{"x":36,"y":3.69e-4},{"x":36,"y":3.49e-4},{"x":36,"y":3.3e-4},{"x":36,"y":3.11e-4},{"x":36,"y":2.94e-4},{"x":36,"y":2.78e-4},{"x":36,"y":2.51e-4},{"x":36,"y":2.31e-4},{"x":36,"y":2.13e-4},{"x":36,"y":1.8e-4},{"x":36,"y":1.59e-4},{"x":36,"y":1.49e-4},{"x":36,"y":1.37e-4},
{"x":36,"y":2.86e-4},{"x":36,"y":3.02e-4},{"x":36,"y":3.2e-4},{"x":36,"y":3.39e-4},{"x":36,"y":3.59e-4},{"x":36,"y":3.8e-4},{"x":36,"y":4.02e-4},{"x":36,"y":4.26e-4},{"x":36,"y":4.51e-4},{"x":36,"y":4.77e-4},{"x":36,"y":5.05e-4},{"x":36,"y":5.35e-4},{"x":36,"y":5.67e-4},{"x":36,"y":6.02e-4},
{"x":37,"y":5.09e-4},{"x":37,"y":4.81e-4},{"x":37,"y":4.54e-4},{"x":37,"y":4.29e-4},{"x":37,"y":4.05e-4},{"x":37,"y":3.83e-4},{"x":37,"y":3.61e-4},{"x":37,"y":3.41e-4},{"x":37,"y":3.22e-4},{"x":37,"y":3.04e-4},{"x":37,"y":2.51e-4},{"x":37,"y":2.31e-4},{"x":37,"y":2.13e-4},{"x":37,"y":1.8e-4},{"x":37,"y":1.49e-4},{"x":37,"y":1.28e-4},{"x":37,"y":1.14e-4},
{"x":37,"y":3.13e-4},{"x":37,"y":3.31e-4},{"x":37,"y":3.51e-4},{"x":37,"y":3.72e-4},{"x":37,"y":3.94e-4},{"x":37,"y":4.17e-4},{"x":37,"y":4.42e-4},{"x":37,"y":4.67e-4},{"x":37,"y":4.95e-4},
{"x":38,"y":5.2e-4},{"x":38,"y":4.91e-4},{"x":38,"y":4.64e-4},{"x":38,"y":4.38e-4},{"x":38,"y":4.14e-4},{"x":38,"y":3.91e-4},{"x":38,"y":3.69e-4},{"x":38,"y":3.49e-4},{"x":38,"y":3.36e-4},{"x":38,"y":2.85e-4},{"x":38,"y":2.62e-4},{"x":38,"y":2.51e-4},{"x":38,"y":2.31e-4},{"x":38,"y":1.88e-4},{"x":38,"y":1.46e-4},{"x":38,"y":9.06e-5},
{"x":38,"y":3.42e-4},{"x":38,"y":3.59e-4},{"x":38,"y":3.8e-4},{"x":38,"y":4.02e-4},{"x":38,"y":4.26e-4},{"x":38,"y":4.51e-4},{"x":38,"y":4.77e-4},{"x":38,"y":5.05e-4},
{"x":39,"y":4.3e-4},{"x":39,"y":4.06e-4},{"x":39,"y":3.84e-4},{"x":39,"y":3.62e-4},{"x":39,"y":3.42e-4},{"x":39,"y":3.23e-4},{"x":39,"y":3.1e-4},{"x":39,"y":2.31e-4},{"x":39,"y":2.13e-4},{"x":39,"y":1.96e-4},{"x":39,"y":1.62e-4},{"x":39,"y":1.56e-4},{"x":39,"y":1.05e-4},{"x":39,"y":7.67e-5},{"x":39,"y":4.23e-5},
{"x":39,"y":3.16e-4},{"x":39,"y":3.32e-4},{"x":39,"y":3.52e-4},{"x":39,"y":3.73e-4},{"x":39,"y":3.95e-4},{"x":39,"y":4.18e-4},
{"x":40,"y":3.9e-4},{"x":40,"y":3.68e-4},{"x":40,"y":3.48e-4},{"x":40,"y":3.28e-4},{"x":40,"y":3.1e-4},{"x":40,"y":2.97e-4},{"x":40,"y":2.62e-4},{"x":40,"y":2.22e-4},{"x":40,"y":2.04e-4},{"x":40,"y":1.88e-4},{"x":40,"y":1.73e-4},{"x":40,"y":1.22e-4},{"x":40,"y":9.84e-5},
{"x":40,"y":3.03e-4},{"x":40,"y":3.19e-4},{"x":40,"y":3.38e-4},{"x":40,"y":3.58e-4},{"x":40,"y":3.79e-4},
{"x":41,"y":5.31e-4},{"x":41,"y":4.5e-4},{"x":41,"y":3.51e-4},{"x":41,"y":3.22e-4},{"x":41,"y":3.03e-4},{"x":41,"y":2.85e-4},{"x":41,"y":2.41e-4},{"x":41,"y":2.13e-4},{"x":41,"y":1.73e-4},{"x":41,"y":1.32e-4},{"x":41,"y":1.19e-4},
{"x":42,"y":3.8e-4},{"x":42,"y":3.51e-4},{"x":42,"y":3.29e-4},{"x":42,"y":3.03e-4},{"x":42,"y":2.62e-4},{"x":42,"y":2.51e-4},{"x":42,"y":2.13e-4},{"x":42,"y":1.73e-4},{"x":42,"y":1.59e-4},{"x":42,"y":1.07e-4},{"x":42,"y":8.17e-5},{"x":42,"y":7.36e-5},
{"x":43,"y":3.96e-4},{"x":43,"y":3.8e-4},{"x":43,"y":3.16e-4},{"x":43,"y":2.79e-4},{"x":43,"y":2.62e-4},{"x":43,"y":2.46e-4},{"x":43,"y":2.31e-4},{"x":43,"y":1.84e-4},{"x":43,"y":1.17e-4},{"x":43,"y":1.12e-4},{"x":43,"y":9.65e-5},{"x":43,"y":8.17e-5},{"x":43,"y":5.4e-5},{"x":43,"y":2.98e-5},
{"x":44,"y":1.88e-4},{"x":44,"y":1.62e-4},
{"x":45,"y":2.79e-4},{"x":45,"y":2.11e-4},{"x":45,"y":1.4e-4},{"x":45,"y":1.24e-4},{"x":45,"y":1.12e-4},{"x":45,"y":6.97e-5},{"x":45,"y":4.03e-5},
{"x":46,"y":2.41e-4},{"x":46,"y":2.04e-4},{"x":46,"y":1.88e-4},{"x":46,"y":1.52e-4},{"x":46,"y":1.3e-4},
{"x":47,"y":2.09e-4},{"x":47,"y":1.8e-4},{"x":47,"y":1.37e-4},
{"x":48,"y":3.07e-4},
{"x":52,"y":6.97e-5},{"x":53,"y":1.54e-4},{"x":53,"y":1.95e-5},{"x":56,"y":1.89e-4}
],
"pr": [
{"x":22,"y":6.31e-3},{"x":22,"y":5.35e-3},{"x":22,"y":3.9e-3},{"x":22,"y":3.72e-3},{"x":22,"y":3.55e-3},{"x":22,"y":3.39e-3},{"x":22,"y":3.24e-3},{"x":22,"y":3.09e-3},{"x":22,"y":2.95e-3},{"x":22,"y":2.82e-3},{"x":22,"y":2.69e-3},{"x":22,"y":2.57e-3},{"x":22,"y":2.45e-3},{"x":22,"y":2.34e-3},{"x":22,"y":2.24e-3},{"x":22,"y":2.14e-3},{"x":22,"y":2.04e-3},{"x":22,"y":1.95e-3},{"x":22,"y":1.86e-3},{"x":22,"y":1.78e-3},{"x":22,"y":1.7e-3},{"x":22,"y":1.62e-3},{"x":22,"y":1.55e-3},{"x":22,"y":1.48e-3},{"x":22,"y":1.41e-3},
{"x":23,"y":7.05e-3},{"x":23,"y":6.5e-3},{"x":23,"y":5.93e-3},{"x":23,"y":4.52e-3},{"x":23,"y":3.9e-3},{"x":23,"y":3.72e-3},{"x":23,"y":3.55e-3},{"x":23,"y":3.39e-3},{"x":23,"y":3.24e-3},{"x":23,"y":3.09e-3},{"x":23,"y":2.95e-3},{"x":23,"y":2.82e-3},{"x":23,"y":2.69e-3},{"x":23,"y":2.57e-3},{"x":23,"y":2.45e-3},{"x":23,"y":2.34e-3},{"x":23,"y":2.24e-3},{"x":23,"y":2.14e-3},{"x":23,"y":2.04e-3},{"x":23,"y":1.95e-3},{"x":23,"y":1.86e-3},{"x":23,"y":1.78e-3},{"x":23,"y":1.7e-3},{"x":23,"y":1.62e-3},{"x":23,"y":1.55e-3},{"x":23,"y":1.48e-3},{"x":23,"y":1.39e-3},
{"x":24,"y":1.18e-2},{"x":24,"y":1.12e-2},{"x":24,"y":1.06e-2},{"x":24,"y":1.0e-2},{"x":24,"y":9.44e-3},{"x":24,"y":8.91e-3},{"x":24,"y":8.41e-3},{"x":24,"y":7.94e-3},{"x":24,"y":7.5e-3},{"x":24,"y":7.08e-3},{"x":24,"y":6.68e-3},{"x":24,"y":6.31e-3},{"x":24,"y":5.96e-3},{"x":24,"y":5.62e-3},{"x":24,"y":5.31e-3},{"x":24,"y":5.01e-3},{"x":24,"y":4.73e-3},{"x":24,"y":4.47e-3},{"x":24,"y":4.22e-3},{"x":24,"y":3.98e-3},{"x":24,"y":3.76e-3},{"x":24,"y":3.55e-3},{"x":24,"y":3.35e-3},{"x":24,"y":3.16e-3},{"x":24,"y":2.99e-3},{"x":24,"y":2.82e-3},{"x":24,"y":2.66e-3},{"x":24,"y":2.51e-3},{"x":24,"y":2.37e-3},{"x":24,"y":2.24e-3},{"x":24,"y":2.11e-3},{"x":24,"y":2.0e-3},{"x":24,"y":1.88e-3},{"x":24,"y":1.78e-3},{"x":24,"y":1.68e-3},{"x":24,"y":1.58e-3},{"x":24,"y":1.5e-3},{"x":24,"y":1.41e-3},{"x":24,"y":1.33e-3},{"x":24,"y":1.26e-3},{"x":24,"y":1.19e-3},{"x":24,"y":1.12e-3},{"x":24,"y":1.06e-3},{"x":24,"y":1.01e-3},
{"x":25,"y":1.06e-2},{"x":25,"y":1.0e-2},{"x":25,"y":9.44e-3},{"x":25,"y":8.91e-3},{"x":25,"y":8.41e-3},{"x":25,"y":7.94e-3},{"x":25,"y":7.5e-3},{"x":25,"y":7.08e-3},{"x":25,"y":6.68e-3},{"x":25,"y":6.31e-3},{"x":25,"y":5.96e-3},{"x":25,"y":5.62e-3},{"x":25,"y":5.31e-3},{"x":25,"y":5.01e-3},{"x":25,"y":4.73e-3},{"x":25,"y":4.47e-3},{"x":25,"y":4.22e-3},{"x":25,"y":3.98e-3},{"x":25,"y":3.76e-3},{"x":25,"y":3.55e-3},{"x":25,"y":3.35e-3},{"x":25,"y":3.16e-3},{"x":25,"y":2.99e-3},{"x":25,"y":2.82e-3},{"x":25,"y":2.66e-3},{"x":25,"y":2.51e-3},{"x":25,"y":2.37e-3},{"x":25,"y":2.24e-3},{"x":25,"y":2.11e-3},{"x":25,"y":2.0e-3},{"x":25,"y":1.88e-3},{"x":25,"y":1.78e-3},{"x":25,"y":1.68e-3},{"x":25,"y":1.58e-3},{"x":25,"y":1.5e-3},{"x":25,"y":1.41e-3},{"x":25,"y":1.33e-3},{"x":25,"y":1.26e-3},{"x":25,"y":1.19e-3},{"x":25,"y":1.12e-3},
{"x":26,"y":1.08e-2},{"x":26,"y":1.02e-2},{"x":26,"y":9.65e-3},{"x":26,"y":9.1e-3},{"x":26,"y":8.6e-3},{"x":26,"y":8.1e-3},{"x":26,"y":7.65e-3},{"x":26,"y":7.25e-3},{"x":26,"y":6.85e-3},{"x":26,"y":6.45e-3},{"x":26,"y":6.1e-3},{"x":26,"y":5.75e-3},{"x":26,"y":5.45e-3},{"x":26,"y":5.15e-3},{"x":26,"y":4.85e-3},{"x":26,"y":4.6e-3},{"x":26,"y":4.35e-3},{"x":26,"y":4.1e-3},{"x":26,"y":3.85e-3},{"x":26,"y":3.65e-3},{"x":26,"y":3.45e-3},{"x":26,"y":3.25e-3},{"x":26,"y":3.05e-3},{"x":26,"y":2.9e-3},{"x":26,"y":2.75e-3},{"x":26,"y":2.6e-3},{"x":26,"y":2.45e-3},{"x":26,"y":2.3e-3},{"x":26,"y":2.17e-3},{"x":26,"y":2.05e-3},{"x":26,"y":1.94e-3},{"x":26,"y":1.83e-3},{"x":26,"y":1.73e-3},{"x":26,"y":1.63e-3},{"x":26,"y":1.54e-3},{"x":26,"y":1.45e-3},{"x":26,"y":1.35e-3},
{"x":27,"y":9.5e-3},{"x":27,"y":8.95e-3},{"x":27,"y":8.45e-3},{"x":27,"y":8.0e-3},{"x":27,"y":7.55e-3},{"x":27,"y":7.1e-3},{"x":27,"y":6.7e-3},{"x":27,"y":6.35e-3},{"x":27,"y":6.0e-3},{"x":27,"y":5.65e-3},{"x":27,"y":5.35e-3},{"x":27,"y":5.05e-3},{"x":27,"y":4.75e-3},{"x":27,"y":4.5e-3},{"x":27,"y":4.25e-3},{"x":27,"y":4.0e-3},{"x":27,"y":3.8e-3},{"x":27,"y":3.58e-3},{"x":27,"y":3.38e-3},{"x":27,"y":3.19e-3},{"x":27,"y":3.01e-3},{"x":27,"y":2.84e-3},{"x":27,"y":2.68e-3},{"x":27,"y":2.53e-3},{"x":27,"y":2.39e-3},{"x":27,"y":2.25e-3},{"x":27,"y":2.13e-3},{"x":27,"y":2.01e-3},{"x":27,"y":1.9e-3},{"x":27,"y":1.79e-3},{"x":27,"y":1.67e-3},
{"x":28,"y":7.0e-3},{"x":28,"y":6.56e-3},{"x":28,"y":6.17e-3},{"x":28,"y":5.88e-3},{"x":28,"y":5.34e-3},{"x":28,"y":5.02e-3},{"x":28,"y":4.43e-3},{"x":28,"y":3.53e-3},{"x":28,"y":3.31e-3},{"x":28,"y":3.11e-3},{"x":28,"y":2.8e-3},{"x":28,"y":2.28e-3},{"x":28,"y":1.6e-3},
{"x":29,"y":2.3e-3}
]
},
"vconcat": [
{
 "width": 928, "height": 547,
 "title": {"text": "Avant le débruitage", "fontSize": 33, "fontWeight": "normal", "baseline": "alphabetic", "offset": 14, "dx": -9},
 "resolve": {"axis": {"x": "independent", "y": "independent"}},
 "layer": [
  {"data": {"name": "ab"},
   "mark": {"type": "point", "shape": "M-1,0A1,0.78,0,1,1,1,0A1,0.78,0,1,1,-1,0Z", "size": 289, "filled": false, "stroke": "#0000ff", "strokeWidth": 1.9, "opacity": 1},
   "encoding": {
    "x": {"field": "x", "type": "quantitative", "scale": {"domain": [20, 60], "nice": false, "zero": false},
      "axis": {"orient": "bottom", "values": [20,25,30,35,40,45,50,55,60], "tickSize": -8, "labelFontSize": 30, "labelPadding": 40, "labelBaseline": "alphabetic", "labelFlush": false, "labelOverlap": false, "title": "Amplitude (dB)", "titleFontSize": 30, "titleFontWeight": "bold", "titleBaseline": "alphabetic", "titleY": 75}},
    "y": {"field": "y", "type": "quantitative", "scale": {"type": "log", "domain": [0.001, 0.6], "nice": false},
      "axis": {"orient": "left", "values": [0.001,0.002,0.003,0.004,0.005,0.006,0.007,0.008,0.009,0.01,0.02,0.03,0.04,0.05,0.06,0.07,0.08,0.09,0.1,0.2,0.3,0.4,0.5],
        "labelExpr": "datum.value==0.1?'10⁻¹':datum.value==0.01?'10⁻²':datum.value==0.001?'10⁻³':''",
        "tickSize": {"condition": {"test": "indexof([0.1,0.01,0.001],datum.value)>=0", "value": -10}, "value": -6},
        "labelPadding": 15, "labelFontSize": 30, "labelFlush": false, "labelOverlap": false, "labelBound": false,
        "title": "SFM", "titleFontSize": 29, "titleFontWeight": "bold", "titleX": -55, "titleY": 279, "titleAngle": -90, "titleAlign": "center", "titleBaseline": "middle"}}
   }},
  {"data": {"values": [{"x": 25}, {"x": 30}]},
   "mark": {"type": "rule", "stroke": "black", "strokeWidth": 1.4, "strokeDash": [12, 7]},
   "encoding": {"x": {"field": "x", "type": "quantitative", "scale": {"domain": [20, 60], "nice": false, "zero": false},
      "axis": {"orient": "top", "values": [20,25,30,35,40,45,50,55,60], "tickSize": -8, "labels": false, "title": null}}}},
  {"data": {"name": "ar"},
   "mark": {"type": "point", "shape": "M-1,0L1,0M0,-1L0,1M-0.72,-0.72L0.72,0.72M-0.72,0.72L0.72,-0.72", "size": 56, "filled": false, "stroke": "#ff0000", "strokeWidth": 1.6, "opacity": 1},
   "encoding": {
    "x": {"field": "x", "type": "quantitative", "scale": {"domain": [20, 60], "nice": false, "zero": false}, "axis": null},
    "y": {"field": "y", "type": "quantitative", "scale": {"type": "log", "domain": [0.001, 0.6], "nice": false}, "axis": null}}},
  {"data": {"values": [{"x": 20.13, "y": 0.01736, "t": "Signaux\nsources\nde bruit"}]},
   "mark": {"type": "text", "font": "Liberation Sans", "fontSize": 29, "fontWeight": "bold", "fill": "#ff0000", "align": "left", "baseline": "alphabetic", "lineBreak": "\n", "lineHeight": 31},
   "encoding": {
    "x": {"field": "x", "type": "quantitative", "scale": {"domain": [20, 60], "nice": false, "zero": false}, "axis": null},
    "y": {"field": "y", "type": "quantitative", "scale": {"type": "log", "domain": [0.001, 0.6], "nice": false},
      "axis": {"orient": "right", "values": [0.001,0.002,0.003,0.004,0.005,0.006,0.007,0.008,0.009,0.01,0.02,0.03,0.04,0.05,0.06,0.07,0.08,0.09,0.1,0.2,0.3,0.4,0.5], "labels": false, "title": null,
        "tickSize": {"condition": {"test": "indexof([0.1,0.01,0.001],datum.value)>=0", "value": -10}, "value": -6}}},
    "text": {"field": "t"}}},
  {"data": {"values": [{"x": 31.98, "y": 0.00532, "t": "Signaux\nsources\nd’endommagement"}]},
   "mark": {"type": "text", "font": "Liberation Sans", "fontSize": 29, "fontWeight": "bold", "fill": "#0000ff", "align": "left", "baseline": "alphabetic", "lineBreak": "\n", "lineHeight": 31},
   "encoding": {
    "x": {"field": "x", "type": "quantitative", "scale": {"domain": [20, 60], "nice": false, "zero": false}, "axis": null},
    "y": {"field": "y", "type": "quantitative", "scale": {"type": "log", "domain": [0.001, 0.6], "nice": false}, "axis": null},
    "text": {"field": "t"}}}
 ]
},
{
 "width": 970, "height": 533,
 "title": {"text": "Aprés le débruitage", "fontSize": 33, "fontWeight": "normal", "baseline": "alphabetic", "offset": -24, "dx": -16},
 "resolve": {"axis": {"x": "independent", "y": "independent"}},
 "layer": [
  {"data": {"name": "pb"},
   "mark": {"type": "point", "shape": "M-1,0A1,0.78,0,1,1,1,0A1,0.78,0,1,1,-1,0Z", "size": 289, "filled": false, "stroke": "#0000ff", "strokeWidth": 1.9, "opacity": 1},
   "encoding": {
    "x": {"field": "x", "type": "quantitative", "scale": {"domain": [20, 60], "nice": false, "zero": false},
      "axis": {"orient": "bottom", "values": [20,25,30,35,40,45,50,55,60], "tickSize": -8, "labelFontSize": 30, "labelPadding": 36, "labelBaseline": "alphabetic", "labelFlush": false, "labelOverlap": false, "title": "Amplitude (dB)", "titleFontSize": 30, "titleFontWeight": "bold", "titleBaseline": "alphabetic", "titleY": 65}},
    "y": {"field": "y", "type": "quantitative", "scale": {"type": "log", "domain": [1.93e-5, 0.0149], "nice": false},
      "axis": {"orient": "left", "values": [0.00002,0.00003,0.00004,0.00005,0.00006,0.00007,0.00008,0.00009,0.0001,0.0002,0.0003,0.0004,0.0005,0.0006,0.0007,0.0008,0.0009,0.001,0.002,0.003,0.004,0.005,0.006,0.007,0.008,0.009,0.01],
        "labelExpr": "datum.value==0.01?'10⁻²':datum.value==0.001?'10⁻³':datum.value==0.0001?'10⁻⁴':''",
        "tickSize": {"condition": {"test": "indexof([0.01,0.001,0.0001],datum.value)>=0", "value": -10}, "value": -6},
        "labelPadding": 15, "labelFontSize": 30, "labelFlush": false, "labelOverlap": false, "labelBound": false,
        "title": "SFM", "titleFontSize": 29, "titleFontWeight": "bold", "titleX": -57, "titleY": 274, "titleAngle": -90, "titleAlign": "center", "titleBaseline": "middle"}}
   }},
  {"data": {"values": [{"x": 25}, {"x": 30}]},
   "mark": {"type": "rule", "stroke": "black", "strokeWidth": 1.4, "strokeDash": [12, 7]},
   "encoding": {"x": {"field": "x", "type": "quantitative", "scale": {"domain": [20, 60], "nice": false, "zero": false},
      "axis": {"orient": "top", "values": [20,25,30,35,40,45,50,55,60], "tickSize": -8, "labels": false, "title": null}}}},
  {"data": {"values": [{"x": 20, "x2": 55.8, "y": 0.00095}]},
   "mark": {"type": "rule", "stroke": "black", "strokeWidth": 6, "strokeDash": [18, 13]},
   "encoding": {
    "x": {"field": "x", "type": "quantitative", "scale": {"domain": [20, 60], "nice": false, "zero": false}, "axis": null},
    "x2": {"field": "x2"},
    "y": {"field": "y", "type": "quantitative", "scale": {"type": "log", "domain": [1.93e-5, 0.0149], "nice": false},
      "axis": {"orient": "right", "values": [0.00002,0.00003,0.00004,0.00005,0.00006,0.00007,0.00008,0.00009,0.0001,0.0002,0.0003,0.0004,0.0005,0.0006,0.0007,0.0008,0.0009,0.001,0.002,0.003,0.004,0.005,0.006,0.007,0.008,0.009,0.01], "labels": false, "title": null,
        "tickSize": {"condition": {"test": "indexof([0.01,0.001,0.0001],datum.value)>=0", "value": -10}, "value": -6}}}}},
  {"data": {"name": "pr"},
   "mark": {"type": "point", "shape": "M-1,0L1,0M0,-1L0,1M-0.72,-0.72L0.72,0.72M-0.72,0.72L0.72,-0.72", "size": 56, "filled": false, "stroke": "#ff0000", "strokeWidth": 1.6, "opacity": 1},
   "encoding": {
    "x": {"field": "x", "type": "quantitative", "scale": {"domain": [20, 60], "nice": false, "zero": false}, "axis": null},
    "y": {"field": "y", "type": "quantitative", "scale": {"type": "log", "domain": [1.93e-5, 0.0149], "nice": false}, "axis": null}}},
  {"data": {"values": [{"x": 38.72, "y": 0.00739, "t": "Signaux\nsources\nd’endommagement"}]},
   "mark": {"type": "text", "font": "Liberation Serif", "fontSize": 29, "fontWeight": "bold", "fill": "#0000ff", "align": "left", "baseline": "alphabetic", "lineBreak": "\n", "lineHeight": 25},
   "encoding": {
    "x": {"field": "x", "type": "quantitative", "scale": {"domain": [20, 60], "nice": false, "zero": false}, "axis": null},
    "y": {"field": "y", "type": "quantitative", "scale": {"type": "log", "domain": [1.93e-5, 0.0149], "nice": false}, "axis": null},
    "text": {"field": "t"}}},
  {"data": {"values": [{"x": 20.41, "y": 0.0001885, "t": "Signaux\nsources\nde\nbruit"}]},
   "mark": {"type": "text", "font": "Liberation Serif", "fontSize": 29, "fontWeight": "bold", "fill": "#ff0000", "align": "left", "baseline": "alphabetic", "lineBreak": "\n", "lineHeight": 25},
   "encoding": {
    "x": {"field": "x", "type": "quantitative", "scale": {"domain": [20, 60], "nice": false, "zero": false}, "axis": null},
    "y": {"field": "y", "type": "quantitative", "scale": {"type": "log", "domain": [1.93e-5, 0.0149], "nice": false}, "axis": null},
    "text": {"field": "t"}}}
 ]
}
]
}
